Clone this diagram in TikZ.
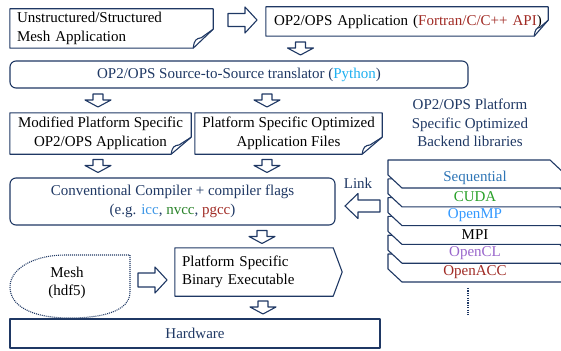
\documentclass[tikz,border=0pt]{standalone}
\usepackage{fontspec}
\setmainfont{Liberation Serif}
\usepackage{xcolor}
\usepackage{tikz}
\usetikzlibrary{positioning}

\definecolor{navy}{RGB}{31,56,100}
\definecolor{apired}{RGB}{160,42,36}
\definecolor{pyblue}{RGB}{30,176,240}
\definecolor{iccblue}{RGB}{60,150,230}
\definecolor{nvgreen}{RGB}{40,130,40}
\definecolor{seqblue}{RGB}{46,117,182}
\definecolor{cudagreen}{RGB}{40,160,40}
\definecolor{ompblue}{RGB}{51,153,255}
\definecolor{clpurple}{RGB}{153,102,204}

% outline with a turned-down corner: node, fold width, fold height
\newcommand{\foldbox}[3]{%
  \draw[boxline] (#1.south west) -- (#1.north west) -- (#1.north east)
    -- ([yshift=#3]#1.south east) -- ([xshift=-#2]#1.south east) -- cycle;
  \draw[boxline] ([xshift=-#2]#1.south east)
    .. controls +(1pt,0.45*#3) and +(-0.25*#2,-0.05*#3) .. ([xshift=-0.6*#2,yshift=0.55*#3]#1.south east)
    -- ([yshift=#3]#1.south east);
}

\begin{document}
\begin{tikzpicture}[
    x=1pt, y=-1pt,
    every node/.style={font=\fontsize{15}{18.5}\selectfont},
    boxline/.style={draw=navy, line width=1.1pt, line join=round},
    plain/.style={rectangle, inner sep=0pt, align=center},
    box/.style={plain, boxline},
    roundbox/.style={box, rounded corners=6pt},
    % hollow block arrow pointing along +x: length, head length, shaft width, head width
    pics/hollow/.style n args={4}{code={
        \draw[boxline, fill=white] (-#1/2,-#3/2) -- (#1/2-#2,-#3/2) -- (#1/2-#2,-#4/2) -- (#1/2,0)
            -- (#1/2-#2,#4/2) -- (#1/2-#2,#3/2) -- (-#1/2,#3/2) -- cycle;
    }},
    downarrow/.style={rotate=-90},
    leftarrow/.style={rotate=180}
]
    \useasboundingbox (0,0) rectangle (561,350);

    \node [plain, align=left, text width=189pt, inner xsep=7pt, minimum height=39pt] (src) at (111.5,28.5)
        {Unstructured/Structured\\Mesh Application};
    \node [plain, align=left, text width=278pt, inner xsep=2pt, minimum height=29pt] (app) at (407,21.5)
        {\hspace{6pt}OP2/OPS Application (\textcolor{apired}{Fortran/C/C++ API})};
    \node [roundbox, text=navy, minimum width=458pt, minimum height=27pt] (trans) at (239,74.5)
        {OP2/OPS Source-to-Source translator (\textcolor{pyblue}{Python})};
    \node [plain, minimum width=181pt, minimum height=41pt] (mod) at (100.5,133.5)
        {Modified Platform Specific\\OP2/OPS Application};
    \node [plain, minimum width=187pt, minimum height=41pt] (opt) at (288.5,133.5)
        {Platform Specific Optimized\\Application Files};
    \node [roundbox, text=navy, minimum width=325pt, minimum height=47pt] (comp) at (172.5,201.5)
        {Conventional Compiler + compiler flags\\(e.g. \textcolor{iccblue}{icc}, \textcolor{nvgreen}{nvcc}, \textcolor{apired}{pgcc})};
    \node [plain, align=left, text width=144pt, inner xsep=7pt, minimum height=48pt] (bin) at (254,272)
        {Platform Specific\\Binary Executable};
    \node [plain] (mesh) at (67,283) {Mesh\\(hdf5)};
    \node [box, text=navy, minimum width=370pt, minimum height=29pt] (hw) at (195,333.5) {Hardware};

    \node [plain, text=navy] (libt) at (470,123) {OP2/OPS Platform\\Specific Optimized\\Backend libraries};
    \node [plain, text=navy] (link) at (358,183) {Link};

    \foldbox{src}{20pt}{19pt}
    \foldbox{app}{14pt}{16pt}
    \foldbox{mod}{20pt}{17pt}
    \foldbox{opt}{20pt}{17pt}
    \draw [boxline] (bin.north west) -- (bin.north east) -- ([xshift=9pt]bin.east)
        -- (bin.south east) -- (bin.south west) -- cycle;
    \draw [navy, line width=1.1pt, dash pattern=on 1pt off 1pt]
        (130,255) -- (130,292) .. controls (130,312) and (100,318) .. (70,318)
        .. controls (30,318) and (10,305) .. (10,287)
        .. controls (10,268) and (35,255) .. (65,255) -- cycle;

    % backend library stack, drawn from the bottom card up
    \foreach \i/\lib/\col in {5/OpenACC/apired, 4/OpenCL/clpurple, 3/MPI/black,
                              2/OpenMP/ompblue, 1/CUDA/cudagreen, 0/Sequential/seqblue} {
        \pgfmathsetmacro\t{160+18.8*\i}
        \draw [boxline, fill=white] (388,\t) -- (550,\t) -- (566,\t+15) -- (566,\t+28)
            -- (402,\t+28) -- (388,\t+15) -- cycle;
        \node [plain, text=\col] (lib\i) at (475,\t+18) {\lib};
    }
    \coordinate (more) at (468,288);
    \coordinate (moreend) at (468,315);
    \draw [navy, line width=2pt, dash pattern=on 1.2pt off 1.2pt] (more) -- (moreend);

    \pic (r1) at (242.5,20) {hollow={29}{12}{13}{26}};
    \pic [downarrow] (d1) at (300.5,48.5) {hollow={13}{7}{10}{26}};
    \pic [downarrow] (d2) at (98,100.5) {hollow={13}{7}{10}{26}};
    \pic [downarrow] (d3) at (267,100.5) {hollow={13}{7}{10}{26}};
    \pic [downarrow] (d4) at (98,166) {hollow={13}{7}{10}{26}};
    \pic [downarrow] (d5) at (267,166) {hollow={13}{7}{10}{26}};
    \pic [leftarrow] (l1) at (362.5,206) {hollow={35}{13}{12}{25}};
    \pic [downarrow] (d6) at (262,237) {hollow={13}{7}{10}{26}};
    \pic (r2) at (152.5,280) {hollow={29}{12}{14}{26}};
    \pic [downarrow] (d7) at (263,307.5) {hollow={13}{7}{10}{26}};
\end{tikzpicture}
\end{document}
